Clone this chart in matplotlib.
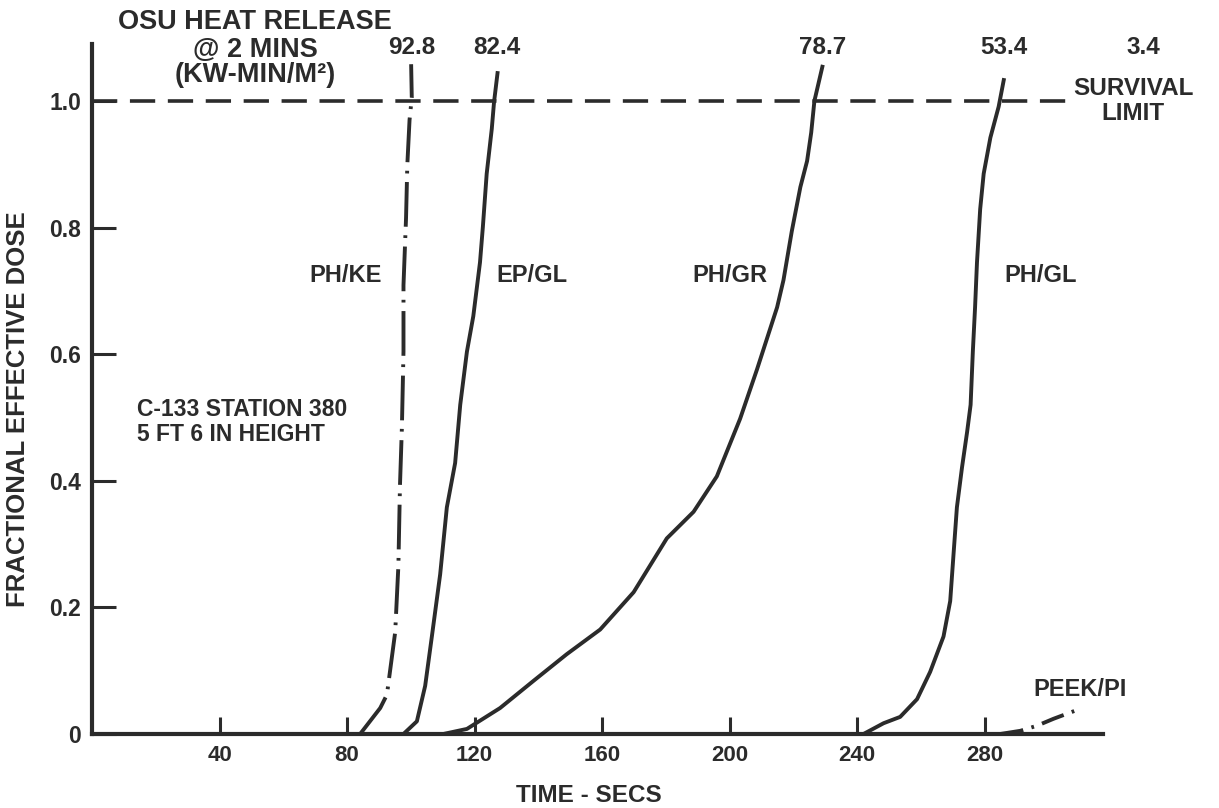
import numpy as np
import matplotlib
matplotlib.use('Agg')
import matplotlib.pyplot as plt

plt.rcParams['font.family'] = ['Liberation Sans', 'DejaVu Sans']
plt.rcParams['font.weight'] = 'bold'

INK = '#2b2b2b'

# curves (time in s, fractional effective dose)
ph_ke_t = [84.1, 90.4, 92.5, 95.1, 96.1, 96.6, 97.2, 97.7, 97.7, 98.5, 98.9, 99.6, 100.3, 100.1]
ph_ke_d = [0.0, 0.041, 0.062, 0.161, 0.266, 0.393, 0.484, 0.604, 0.709, 0.815, 0.899, 0.970, 1.005, 1.058]

ep_gl_t = [97.7, 101.9, 104.5, 106.6, 109.2, 111.3, 113.9, 115.5, 117.6, 119.6, 121.7, 122.6, 123.8, 125.4, 126.1, 127.2]
ep_gl_d = [0.0, 0.020, 0.076, 0.154, 0.252, 0.358, 0.428, 0.520, 0.604, 0.660, 0.745, 0.801, 0.885, 0.956, 0.998, 1.044]

ph_gr_t = [110.2, 117.6, 128.0, 138.5, 148.9, 159.4, 169.9, 180.3, 188.7, 196.0, 203.3, 208.6, 214.9,
           216.9, 219.5, 222.2, 224.3, 225.6, 226.6, 229.1]
ph_gr_d = [0.0, 0.008, 0.041, 0.084, 0.126, 0.165, 0.224, 0.309, 0.351, 0.407, 0.498, 0.576, 0.674,
           0.717, 0.794, 0.864, 0.905, 0.950, 1.000, 1.054]

ph_gl_t = [242.0, 248.3, 253.5, 258.8, 262.9, 267.1, 269.2, 270.3, 271.3, 272.9, 274.5, 275.6, 276.3,
           277.0, 277.6, 278.6, 279.7, 281.8, 284.4, 286.0]
ph_gl_d = [0.0, 0.017, 0.027, 0.055, 0.098, 0.154, 0.210, 0.288, 0.358, 0.421, 0.477, 0.520, 0.604,
           0.674, 0.745, 0.829, 0.885, 0.942, 0.991, 1.033]

peek_pi_t = [284.9, 291.2, 296.4, 301.6, 308.5]
peek_pi_d = [0.0, 0.005, 0.013, 0.024, 0.037]

heat_release = ['92.8', '82.4', '78.7', '53.4', '3.4']
heat_release_x = [100.4, 127.1, 229.1, 285.9, 329.8]

x_ticks = [40, 80, 120, 160, 200, 240, 280]
y_ticks = [0, 0.2, 0.4, 0.6, 0.8, 1.0]
y_tick_labels = ['0', '0.2', '0.4', '0.6', '0.8', '1.0']
survival_limit = 1.0

fig = plt.figure(figsize=(12.19, 8.08), dpi=100)
ax = fig.add_axes([0.0755, 0.0916, 0.829, 0.854])

lw = 2.8
dashdot = (0, (11.5, 2.2, 0.7, 2.2))
ax.plot(ph_ke_t, ph_ke_d, color=INK, lw=lw, linestyle=dashdot, solid_capstyle='butt')
ax.plot(ep_gl_t, ep_gl_d, color=INK, lw=lw)
ax.plot(ph_gr_t, ph_gr_d, color=INK, lw=lw)
ax.plot(ph_gl_t, ph_gl_d, color=INK, lw=lw)
ax.plot(peek_pi_t, peek_pi_d, color=INK, lw=lw, linestyle=(0, (6, 2.2, 0.7, 2.2)))

ax.plot([0, 307], [survival_limit, survival_limit], color=INK, lw=2.6,
        linestyle=(0, (7.0, 3.5)), clip_on=False)

ax.set_xlim(0, 317)
ax.set_ylim(0, 1.09)
for side in ['top', 'right']:
    ax.spines[side].set_visible(False)
for side in ['left', 'bottom']:
    ax.spines[side].set_linewidth(3)
    ax.spines[side].set_color(INK)

ax.set_xticks(x_ticks)
ax.set_yticks(y_ticks)
ax.set_yticklabels(y_tick_labels)
ax.tick_params(axis='x', direction='in', length=12, width=2.2, colors=INK, labelsize=16, pad=8)
ax.tick_params(axis='y', direction='in', length=17, width=2.2, colors=INK, labelsize=16.5, pad=8)
for lab in ax.get_xticklabels() + ax.get_yticklabels():
    lab.set_fontweight('bold')

ax.set_xlabel('TIME - SECS', fontsize=17.5, fontweight='bold', color=INK)
ax.xaxis.set_label_coords(0.492, -0.0725)
ax.set_ylabel('FRACTIONAL EFFECTIVE DOSE', fontsize=18.5, fontweight='bold', color=INK)
ax.yaxis.set_label_coords(-0.061, 0.471)

txt = dict(color=INK, fontweight='bold', ha='center', va='center', clip_on=False)
ax.text(51.1, 1.125, 'OSU HEAT RELEASE', fontsize=19.5, **txt)
ax.text(51.1, 1.081, '@ 2 MINS', fontsize=19.5, **txt)
ax.text(51.1, 1.041, '(KW-MIN/M²)', fontsize=19.5, **txt)
for x, s in zip(heat_release_x, heat_release):
    ax.text(x, 1.085, s, fontsize=17.5, **txt)
ax.text(326.6, 1.0, 'SURVIVAL\nLIMIT', fontsize=17.5, linespacing=1.15, **txt)

ax.text(79.4, 0.725, 'PH/KE', fontsize=17, **txt)
ax.text(138.1, 0.725, 'EP/GL', fontsize=17, **txt)
ax.text(200.2, 0.725, 'PH/GR', fontsize=17, **txt)
ax.text(297.5, 0.725, 'PH/GL', fontsize=17, **txt)
ax.text(310.0, 0.07, 'PEEK/PI', fontsize=17, **txt)
ax.text(14.1, 0.493, 'C-133 STATION 380\n5 FT 6 IN HEIGHT', fontsize=16.5, color=INK,
        fontweight='bold', ha='left', va='center', linespacing=1.15)

fig.savefig('out.png', dpi=100, facecolor='white')
